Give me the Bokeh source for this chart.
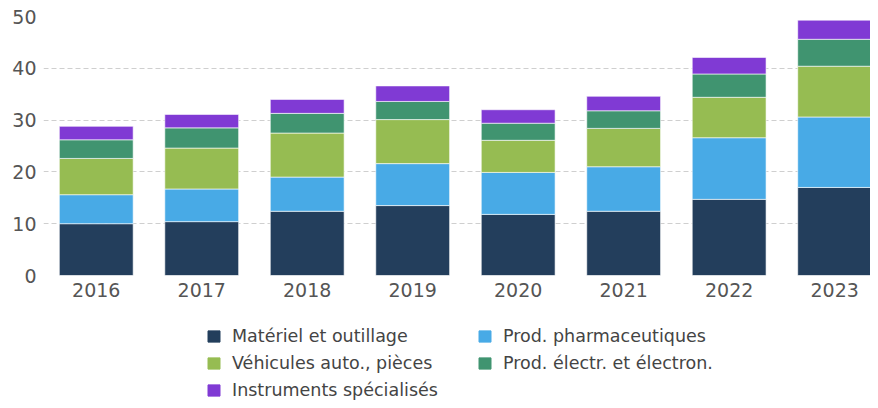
from bokeh.plotting import figure
from bokeh.layouts import column
from bokeh.models import ColumnDataSource, Range1d, FixedTicker, Legend, LegendItem
from bokeh.embed import file_html
from bokeh.resources import INLINE

years = ["2016", "2017", "2018", "2019", "2020", "2021", "2022", "2023"]
materiel = [10.0, 10.4, 12.4, 13.5, 11.8, 12.4, 14.7, 17.0]
pharma = [5.6, 6.3, 6.6, 8.1, 8.1, 8.6, 11.9, 13.6]
vehicules = [7.0, 7.9, 8.5, 8.5, 6.2, 7.4, 7.8, 9.8]
electr = [3.6, 3.9, 3.8, 3.5, 3.3, 3.4, 4.5, 5.2]
instruments = [2.6, 2.6, 2.7, 3.0, 2.6, 2.8, 3.2, 3.7]

labels = ["Matériel et outillage", "Prod. pharmaceutiques", "Véhicules auto., pièces",
          "Prod. électr. et électron.", "Instruments spécialisés"]
keys = ["materiel", "pharma", "vehicules", "electr", "instruments"]
colors = ["#233e5c", "#48aae6", "#96bc52", "#409470", "#803ad4"]
y_ticks = [0, 10, 20, 30, 40, 50]

xpos = [i + 0.5 for i in range(len(years))]
src = ColumnDataSource(dict(x=xpos, materiel=materiel, pharma=pharma, vehicules=vehicules,
                            electr=electr, instruments=instruments))

# ---- main chart ----
p = figure(width=870, height=305, output_backend="svg", toolbar_location=None,
           x_range=Range1d(0, 7.84), y_range=Range1d(0, 50))
p.min_border_left = 43
p.min_border_right = 0
p.min_border_top = 16
p.min_border_bottom = 30
p.outline_line_color = None
p.background_fill_color = "white"
p.border_fill_color = "white"

p.vbar_stack(keys, x="x", width=0.7, color=colors, source=src,
             line_color="white", line_alpha=0.6, line_width=1)

p.xgrid.visible = False
p.ygrid.grid_line_color = "#cfcfcf"
p.ygrid.grid_line_dash = "5 3"
p.ygrid.grid_line_width = 1

p.yaxis.ticker = FixedTicker(ticks=y_ticks)
p.xaxis.ticker = FixedTicker(ticks=xpos)
p.xaxis.major_label_overrides = {x: y for x, y in zip(xpos, years)}
for ax in (p.xaxis[0], p.yaxis[0]):
    ax.axis_line_color = None
    ax.major_tick_line_color = None
    ax.minor_tick_line_color = None
    ax.major_tick_out = 0
    ax.major_tick_in = 0
    ax.major_label_text_font = "DejaVu Sans"
    ax.major_label_text_font_size = "19px"
    ax.major_label_text_color = "#555555"
p.yaxis.major_label_standoff = 7
p.xaxis.major_label_standoff = 7

# ---- legend panel (its own swatch renderers sit outside the visible range) ----
lf = figure(width=870, height=95, output_backend="svg", toolbar_location=None,
            x_range=Range1d(-20, -19), y_range=Range1d(-20, -19),
            x_axis_type=None, y_axis_type=None)
lf.min_border_left = 43
lf.min_border_right = 0
lf.min_border_top = 0
lf.min_border_bottom = 0
lf.outline_line_color = None
lf.xgrid.visible = False
lf.ygrid.visible = False
lf.border_fill_color = "white"

swatches = lf.vbar_stack(keys, x="x", width=0.7, color=colors, source=src)
items = [LegendItem(label=l, renderers=[r]) for l, r in zip(labels, swatches)]
order = [0, 2, 4, 1, 3]
legend = Legend(items=[items[i] for i in order], orientation="vertical", nrows=3,
                location=(163, 0),
                label_text_font="DejaVu Sans", label_text_font_size="17.5px",
                label_text_color="#444444", glyph_width=15, glyph_height=14,
                label_height=19, label_width=238, label_standoff=11, spacing=7,
                padding=0, margin=0,
                border_line_color=None, background_fill_alpha=0)
lf.add_layout(legend, "center")

layout = column(p, lf, spacing=0)
open("out.html", "w").write(file_html(layout, INLINE))
